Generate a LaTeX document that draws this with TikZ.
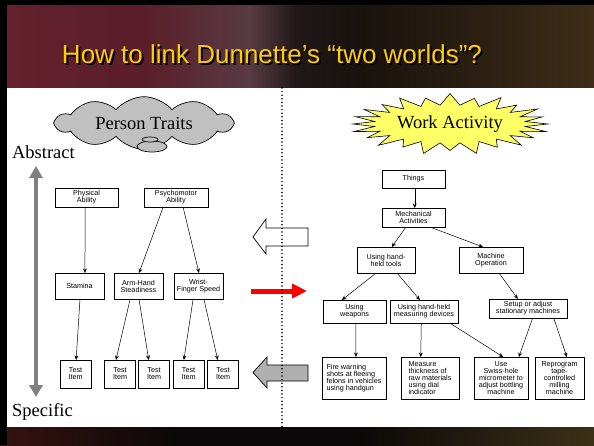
\documentclass[tikz,border=0pt]{standalone}
\usepackage{fontspec}
\setmainfont{Liberation Serif}
\setsansfont{Liberation Sans}
\usetikzlibrary{arrows.meta,calc,shapes.symbols}
\definecolor{bgA}{RGB}{100,32,46}
\definecolor{bgB}{RGB}{90,30,42}
\definecolor{bgC}{RGB}{88,58,66}
\definecolor{bgD}{RGB}{32,24,24}
\definecolor{bgE}{RGB}{24,18,14}
\definecolor{bgF}{RGB}{62,44,22}
\definecolor{bbA}{RGB}{55,18,18}
\definecolor{bbB}{RGB}{10,8,8}
\definecolor{bbC}{RGB}{60,48,22}
\definecolor{titleyellow}{RGB}{255,204,0}
\definecolor{cloudgray}{RGB}{192,192,192}
\definecolor{burstyellow}{RGB}{255,255,102}
\definecolor{arrowgray}{RGB}{128,128,128}
\definecolor{blockgray}{RGB}{176,176,176}
\pgfdeclarehorizontalshading{topband}{100bp}{color(0bp)=(bgA); color(25bp)=(bgA); color(37bp)=(bgB); color(46bp)=(bgC); color(50bp)=(bgD); color(55bp)=(bgE); color(75bp)=(bgF); color(100bp)=(bgF)}
\pgfdeclarehorizontalshading{botband}{100bp}{color(0bp)=(bbA); color(25bp)=(bbA); color(40bp)=(bbB); color(55bp)=(bbB); color(75bp)=(bbC); color(100bp)=(bbC)}
\tikzset{
  box/.style={draw, fill=white, line width=0.8pt, inner sep=0pt, outer sep=0pt,
    font=\sffamily\fontsize{7.2}{7}\selectfont, align=center},
  conn/.style={line width=0.5pt, -{Stealth[length=4.5pt,width=3.8pt]}},
  serifbig/.style={font=\fontsize{18.5}{20}\selectfont, inner sep=0pt},
  titletext/.style={font=\sffamily\fontsize{26}{28}\selectfont, inner sep=0pt},
}
\newcommand\linkbox[4]{\draw[conn] ($(#1.south west)!#2!(#1.south east)$) -- ($(#3.north west)!#4!(#3.north east)$);}
\newcommand\shadowed[1]{\rlap{\kern2pt\raisebox{-2pt}{\color{black}#1}}{\color{titleyellow}#1}}
\begin{document}
\begin{tikzpicture}[x=1pt,y=-1pt]
\useasboundingbox (0,0) rectangle (594,445);
% background
\shade[shading=topband] (0,0) rectangle (594,88);
\fill[white] (7,88) rectangle (594,427);
\shade[shading=botband] (0,427) rectangle (594,445);
% title
\node[titletext] (title) at (272,55) {\shadowed{How to link Dunnette’s “two worlds”?}};
% Person Traits cloud
\node[cloud, draw, fill=cloudgray, line width=0.7pt, cloud puffs=10, cloud puff arc=100, aspect=4,
  minimum width=176pt, minimum height=42pt, inner sep=0pt, serifbig] (pt) at (144,123) {Person Traits};
\draw[fill=cloudgray, line width=0.7pt] (152,146.5) ellipse (15 and 5.5);
\draw[fill=cloudgray, line width=0.7pt] (150,139.5) ellipse (8 and 2.5);
% Work Activity starburst
\draw[fill=burstyellow, line width=0.6pt] plot[samples at={0,...,47}, variable=\k]
  ({450+(mod(\k,2)==0 ? 98+4*sin(\k*83) : 76)*cos(\k*7.5)}, {124+(mod(\k,2)==0 ? 28.5+2*sin(\k*83) : 19)*sin(\k*7.5)}) -- cycle;
\node[serifbig] (wa) at (450,124) {Work Activity};
% Abstract / Specific
\node[serifbig, anchor=base east] (abs) at (75,158) {Abstract};
\node[serifbig, anchor=base west] (spec) at (12,416) {Specific};
\coordinate (vtop) at (36,166);
\coordinate (vbot) at (36,397);
\draw[arrowgray, line width=4.5pt, {Triangle[width=13pt,length=12pt]}-{Triangle[width=13pt,length=12pt]}] (vtop) -- (vbot);
% left boxes
\node[box, minimum width=63pt, minimum height=19pt] (phys) at (86.5,197.5) {Physical\\Ability};
\node[box, minimum width=64pt, minimum height=19pt] (psy) at (176,197.5) {Psychomotor\\Ability};
\node[box, minimum width=49pt, minimum height=26pt] (stam) at (79.5,286) {Stamina};
\node[box, minimum width=49pt, minimum height=26pt] (arm) at (138.5,286) {Arm-Hand\\Steadiness};
\node[box, minimum width=49pt, minimum height=26pt] (wrist) at (198.5,286) {Wrist-\\Finger Speed};
\foreach \n/\x in {t1/75.5, t2/120, t3/154, t4/188.5, t5/223}
  \node[box, minimum width=31pt, minimum height=28pt] (\n) at (\x,374) {Test\\Item};
\linkbox{phys}{0.48}{stam}{0.61}
\linkbox{psy}{0.30}{arm}{0.51}
\linkbox{psy}{0.61}{wrist}{0.51}
\linkbox{stam}{0.51}{t1}{0.52}
\linkbox{arm}{0.33}{t2}{0.37}
\linkbox{arm}{0.51}{t3}{0.33}
\linkbox{wrist}{0.39}{t4}{0.35}
\linkbox{wrist}{0.61}{t5}{0.33}
% right boxes
\node[box, minimum width=63pt, minimum height=18pt] (things) at (413.5,179) {Things};
\node[box, minimum width=63pt, minimum height=19pt] (mech) at (413.5,217.5) {Mechanical\\Activities};
\node[box, minimum width=58pt, minimum height=26pt] (tools) at (386,260) {Using hand-\\held tools};
\node[box, minimum width=64pt, minimum height=26pt] (machop) at (491,260) {Machine\\Operation};
\node[box, minimum width=63pt, minimum height=23pt] (weap) at (354.5,311.5) {Using\\weapons};
\node[box, minimum width=68pt, minimum height=23pt] (meas) at (424,311.5) {Using hand-held\\measuring devices};
\node[box, minimum width=78pt, minimum height=19pt] (setup) at (528,308.5) {Setup or adjust\\stationary machines};
\node[box, align=left, minimum width=64pt, minimum height=42pt] (fire) at (354,378) {Fire warning\\shots at fleeing\\felons in vehicles\\using handgun};
\node[box, align=left, minimum width=58pt, minimum height=42pt] (thick) at (430,378) {Measure\\thickness of\\raw materials\\using dial\\indicator};
\node[box, minimum width=54pt, minimum height=42pt] (swiss) at (501,378) {Use\\Swiss-hole\\micrometer to\\adjust bottling\\machine};
\node[box, minimum width=49pt, minimum height=42pt] (reprog) at (559.5,378) {Reprogram\\tape-\\controlled\\milling\\machine};
\linkbox{things}{0.52}{mech}{0.52}
\linkbox{mech}{0.38}{tools}{0.60}
\linkbox{mech}{0.76}{machop}{0.375}
\linkbox{tools}{0.33}{weap}{0.30}
\linkbox{tools}{0.69}{meas}{0.44}
\linkbox{machop}{0.625}{setup}{0.37}
\linkbox{weap}{0.52}{fire}{0.53}
\linkbox{meas}{0.46}{thick}{0.34}
\linkbox{meas}{0.88}{swiss}{0.54}
\linkbox{setup}{0.56}{swiss}{0.83}
\linkbox{setup}{0.83}{reprog}{0.65}
% block arrows
\draw[fill=white, line width=0.7pt] (308,228) -- (266,228) -- (266,219) -- (253,237) -- (266,254) -- (266,246) -- (308,246) -- cycle;
\draw[fill=blockgray, line width=0.7pt] (308,365) -- (267,365) -- (267,357) -- (253,372.5) -- (267,388) -- (267,381) -- (308,381) -- cycle;
\coordinate (rstart) at (251,291);
\coordinate (rend) at (307,291);
\draw[red, line width=5pt, -{Triangle[width=14pt,length=15pt]}] (rstart) -- (rend);
% dotted divider
\coordinate (dtop) at (282,88);
\coordinate (dbot) at (282,428);
\draw[line width=1.7pt, line cap=round, dash pattern=on 0pt off 3.6pt] (dtop) -- (dbot);
% borders
\fill[black] (0,0) rectangle (594,5);
\fill[black] (0,0) rectangle (7,445);
\end{tikzpicture}
\end{document}
